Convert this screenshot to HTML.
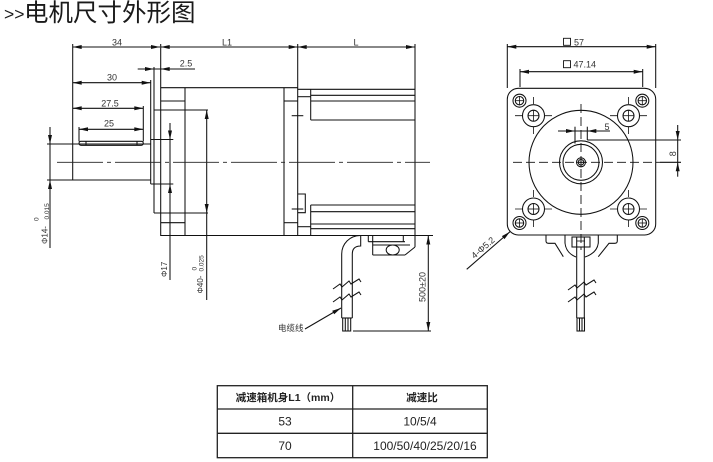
<!DOCTYPE html>
<html><head><meta charset="utf-8"><style>
html,body{margin:0;padding:0;background:#fff;}
svg{display:block;}
text{font-family:"Liberation Sans","Noto Sans CJK SC",sans-serif;fill:#333;}
</style></head><body>
<svg width="713" height="462" viewBox="0 0 713 462" xmlns="http://www.w3.org/2000/svg">
<rect width="713" height="462" fill="#fff"/>
<!-- title -->
<text x="4" y="20" font-size="17.5" style="fill:#1a1a1a">&gt;&gt;</text>
<text x="24" y="21" font-size="24.5" style="fill:#1a1a1a;font-family:'Noto Sans CJK SC',sans-serif">电机尺寸外形图</text>

<g stroke="#111" stroke-width="1.05" fill="none">
<!-- ===== SIDE VIEW ===== -->
<line x1="72.7" y1="47" x2="160" y2="47"/>
<line x1="160.7" y1="47" x2="415" y2="47"/>
<line x1="72.7" y1="44" x2="72.7" y2="180"/>
<line x1="160.7" y1="44" x2="160.7" y2="236"/>
<line x1="297.7" y1="44" x2="297.7" y2="236"/>
<line x1="415" y1="44" x2="415" y2="247"/>
<!-- 30 -->
<line x1="72.7" y1="82.7" x2="150.7" y2="82.7"/>
<line x1="150.7" y1="80" x2="150.7" y2="184"/>
<!-- 2.5 -->
<line x1="137.7" y1="69" x2="195" y2="69"/>
<line x1="154" y1="67" x2="154" y2="213"/>
<!-- 27.5 -->
<line x1="72.7" y1="108.3" x2="143.3" y2="108.3"/>
<line x1="143.3" y1="106" x2="143.3" y2="141.5"/>
<!-- 25 -->
<line x1="79" y1="129.3" x2="143.3" y2="129.3"/>
<line x1="79" y1="127" x2="79" y2="141.5"/>
<!-- shaft -->
<line x1="47" y1="144" x2="150.7" y2="144"/>
<line x1="47" y1="180" x2="150.7" y2="180"/>
<rect x="79" y="141.3" width="64.3" height="4" rx="2"/>
<line x1="86" y1="141.3" x2="86" y2="145.3"/>
<line x1="137" y1="141.3" x2="137" y2="145.3"/>
<line x1="50" y1="127" x2="50" y2="248"/>
<!-- step phi17 -->
<line x1="150.7" y1="139.5" x2="173.3" y2="139.5"/>
<line x1="150.7" y1="184" x2="173.3" y2="184"/>
<line x1="170" y1="123" x2="170" y2="280"/>
<!-- flange -->
<line x1="154" y1="110" x2="208" y2="110"/>
<line x1="154" y1="213" x2="208" y2="213"/>
<line x1="206.7" y1="110" x2="206.7" y2="300"/>
<!-- gearbox -->
<line x1="160.7" y1="87.7" x2="297.7" y2="87.7"/>
<line x1="160.7" y1="235.5" x2="433" y2="235.5"/>
<line x1="185" y1="87.7" x2="185" y2="235.5"/>
<line x1="284" y1="87.7" x2="284" y2="235.5"/>
<line x1="160.7" y1="101" x2="185" y2="101"/>
<line x1="284" y1="101" x2="297.7" y2="101"/>
<line x1="160.7" y1="222.7" x2="185" y2="222.7"/>
<line x1="284" y1="222.7" x2="297.7" y2="222.7"/>
<!-- motor -->
<line x1="297.7" y1="89.3" x2="415" y2="89.3"/>
<line x1="297.7" y1="96.7" x2="310.7" y2="96.7"/>
<line x1="310.7" y1="89.3" x2="310.7" y2="120"/>
<line x1="310.7" y1="95.3" x2="415" y2="95.3"/>
<line x1="310.7" y1="101" x2="415" y2="101"/>
<line x1="310.7" y1="120" x2="415" y2="120"/>
<line x1="310.7" y1="205" x2="415" y2="205"/>
<line x1="310.7" y1="211.7" x2="415" y2="211.7"/>
<line x1="310.7" y1="224" x2="415" y2="224"/>
<line x1="310.7" y1="228.7" x2="415" y2="228.7"/>
<line x1="297.7" y1="226.7" x2="310.7" y2="226.7"/>
<line x1="310.7" y1="205" x2="310.7" y2="235.5"/>
<line x1="291.7" y1="115.7" x2="303.3" y2="115.7"/>
<line x1="291.7" y1="209" x2="303.3" y2="209"/>
<polyline points="297.7,194 305.3,194 305.3,212.7 297.7,212.7"/>
<!-- connector side -->
<line x1="368.3" y1="235.5" x2="368.3" y2="241.7"/>
<line x1="372.7" y1="235.5" x2="372.7" y2="255"/>
<line x1="403.3" y1="235.5" x2="403.3" y2="241.7"/>
<line x1="368.3" y1="241.7" x2="405" y2="241.7"/>
<line x1="372.7" y1="245" x2="410" y2="245"/>
<line x1="372.7" y1="255" x2="405" y2="255"/>
<line x1="415" y1="247" x2="405" y2="255"/>
<ellipse cx="392.7" cy="250" rx="6.5" ry="5"/>
<!-- cable side -->
<path d="M341.7,318 V254 A18.5,18.5 0 0 1 360.2,235.5"/>
<path d="M352.3,318 V254 Q352.3,246 360.7,246 V235.5"/>
<path d="M333,289 L340,284 L342,287 L349,281 L351,284 L359,279 L361,282"/>
<path d="M333,302 L340,297 L342,300 L349,294 L351,297 L359,292 L361,295"/>
<line x1="341.7" y1="318" x2="352.3" y2="318"/>
<rect x="342.7" y="318" width="8" height="13"/>
<line x1="345.3" y1="318" x2="345.3" y2="331"/>
<line x1="348" y1="318" x2="348" y2="331"/>
<!-- 500 dim -->
<line x1="428.3" y1="235.5" x2="428.3" y2="331"/>
<line x1="353" y1="331" x2="431" y2="331"/>
<line x1="305" y1="329" x2="341" y2="308"/>
</g>

<line x1="57" y1="162.3" x2="430" y2="162.3" stroke="#222" stroke-width="0.9" stroke-dasharray="46 4 4 4"/>

<!-- ===== FRONT VIEW ===== -->
<g stroke="#111" stroke-width="1.05" fill="none">
<rect x="507.3" y="88.3" width="148.4" height="146.7" rx="11"/>
<line x1="507.3" y1="44" x2="507.3" y2="88"/>
<line x1="655.7" y1="44" x2="655.7" y2="88"/>
<line x1="507.3" y1="46.7" x2="655.7" y2="46.7"/>
<line x1="520" y1="69" x2="520" y2="87"/>
<line x1="642.7" y1="69" x2="642.7" y2="87"/>
<line x1="520" y1="71.7" x2="642.7" y2="71.7"/>
<rect x="563.5" y="38.3" width="7" height="7" stroke-width="0.9"/>
<rect x="563.5" y="60.7" width="7" height="7" stroke-width="0.9"/>
<circle cx="581" cy="162.3" r="52"/>
<circle cx="581" cy="162.3" r="21.5"/>
<circle cx="581" cy="162.3" r="18"/>
<circle cx="581" cy="162.3" r="4.5"/>
<circle cx="581" cy="162.3" r="2.8"/>
<circle cx="533.5" cy="115.7" r="11"/><circle cx="533.5" cy="115.7" r="5.5"/>
<circle cx="628.5" cy="115.7" r="11"/><circle cx="628.5" cy="115.7" r="5.5"/>
<circle cx="533.5" cy="209" r="11"/><circle cx="533.5" cy="209" r="5.5"/>
<circle cx="628.5" cy="209" r="11"/><circle cx="628.5" cy="209" r="5.5"/>
<circle cx="519.5" cy="100.7" r="6.5"/><circle cx="519.5" cy="100.7" r="4.2"/>
<circle cx="642.3" cy="100.7" r="6.5"/><circle cx="642.3" cy="100.7" r="4.2"/>
<circle cx="519.5" cy="223" r="6.5"/><circle cx="519.5" cy="223" r="4.2"/>
<circle cx="642.3" cy="223" r="6.5"/><circle cx="642.3" cy="223" r="4.2"/>
<line x1="558" y1="131" x2="610" y2="131"/>
<line x1="575" y1="126.7" x2="575" y2="143.5"/>
<line x1="587.3" y1="126.7" x2="587.3" y2="140"/>
<line x1="587.3" y1="140" x2="681" y2="140"/>
<line x1="677.7" y1="125" x2="677.7" y2="176.7"/>
<line x1="660" y1="162.3" x2="681" y2="162.3"/>
<path d="M546,235 V241 Q546,243.3 548.5,243.3 H555 L563.3,256.7"/>
<path d="M617.3,235 V241 Q617.3,243.3 614.8,243.3 H609 L598.3,256.7"/>
<path d="M565,235 V243 Q566,253 576,257"/>
<path d="M598.3,235 V243 Q597,253 585,257"/>
<rect x="572" y="237" width="18" height="10"/>
<line x1="576.7" y1="237" x2="576.7" y2="318"/>
<line x1="584.3" y1="237" x2="584.3" y2="318"/>
<path d="M568,290 L575,285 L577,288 L584,282 L586,285 L594,280 L596,283"/>
<path d="M568,302 L575,297 L577,300 L584,294 L586,297 L594,292 L596,295"/>
<line x1="576.7" y1="318" x2="584.3" y2="318"/>
<rect x="577" y="318" width="7.5" height="13"/>
<line x1="579.5" y1="318" x2="579.5" y2="331"/>
<line x1="582" y1="318" x2="582" y2="331"/>
<line x1="466.7" y1="269.3" x2="510" y2="231.7"/>
</g>
<g stroke="#111" stroke-width="0.8">
<line x1="576" y1="162.3" x2="586" y2="162.3"/><line x1="581" y1="157.3" x2="581" y2="167.3"/>
<line x1="528" y1="115.7" x2="539" y2="115.7"/><line x1="533.5" y1="110.2" x2="533.5" y2="121.2"/>
<line x1="623" y1="115.7" x2="634" y2="115.7"/><line x1="628.5" y1="110.2" x2="628.5" y2="121.2"/>
<line x1="528" y1="209" x2="539" y2="209"/><line x1="533.5" y1="203.5" x2="533.5" y2="214.5"/>
<line x1="623" y1="209" x2="634" y2="209"/><line x1="628.5" y1="203.5" x2="628.5" y2="214.5"/>
<line x1="515" y1="100.7" x2="524" y2="100.7"/><line x1="519.5" y1="96.2" x2="519.5" y2="105.2"/>
<line x1="637.8" y1="100.7" x2="646.8" y2="100.7"/><line x1="642.3" y1="96.2" x2="642.3" y2="105.2"/>
<line x1="515" y1="223" x2="524" y2="223"/><line x1="519.5" y1="218.5" x2="519.5" y2="227.5"/>
<line x1="637.8" y1="223" x2="646.8" y2="223"/><line x1="642.3" y1="218.5" x2="642.3" y2="227.5"/>
<path d="M515,115.7 H522 M545,115.7 H552 M533.5,97 V104 M533.5,127 V134"/>
<path d="M610,115.7 H617 M640,115.7 H647 M628.5,97 V104 M628.5,127 V134"/>
<path d="M515,209 H522 M545,209 H552 M533.5,190 V197 M533.5,220 V227"/>
<path d="M610,209 H617 M640,209 H647 M628.5,190 V197 M628.5,220 V227"/>
<line x1="577" y1="241" x2="585" y2="241"/>
</g>
<line x1="581" y1="104" x2="581" y2="250" stroke="#111" stroke-width="0.9" stroke-dasharray="9 4"/>
<line x1="513" y1="162.3" x2="660" y2="162.3" stroke="#111" stroke-width="0.9" stroke-dasharray="9 4"/>

<!-- arrowheads -->
<g fill="#111" stroke="none">
<polygon points="72.7,47 81.7,45 81.7,49"/><polygon points="160,47 151,45 151,49"/>
<polygon points="160.7,47 169.7,45 169.7,49"/><polygon points="297.7,47 288.7,45 288.7,49"/>
<polygon points="297.7,47 306.7,45 306.7,49"/><polygon points="415,47 406,45 406,49"/>
<polygon points="72.7,82.7 81.7,80.7 81.7,84.7"/><polygon points="150.7,82.7 141.7,80.7 141.7,84.7"/>
<polygon points="154,69 145,67 145,71"/><polygon points="160.7,69 169.7,67 169.7,71"/>
<polygon points="72.7,108.3 81.7,106.3 81.7,110.3"/><polygon points="143.3,108.3 134.3,106.3 134.3,110.3"/>
<polygon points="79,129.3 88,127.3 88,131.3"/><polygon points="143.3,129.3 134.3,127.3 134.3,131.3"/>
<polygon points="50,144 48,135 52,135"/><polygon points="50,180 48,189 52,189"/>
<polygon points="170,139.5 168,130.5 172,130.5"/><polygon points="170,184 168,193 172,193"/>
<polygon points="206.7,110 204.7,119 208.7,119"/><polygon points="206.7,213 204.7,204 208.7,204"/>
<polygon points="428.3,235.5 426.3,244.5 430.3,244.5"/><polygon points="428.3,331 426.3,322 430.3,322"/>
<polygon points="341,308 334.2,314.2 332.2,310.8"/>
<polygon points="507.3,46.7 516.3,44.7 516.3,48.7"/><polygon points="655.7,46.7 646.7,44.7 646.7,48.7"/>
<polygon points="520,71.7 529,69.7 529,73.7"/><polygon points="642.7,71.7 633.7,69.7 633.7,73.7"/>
<polygon points="575,131 566,129 566,133"/><polygon points="587.3,131 596.3,129 596.3,133"/>
<polygon points="677.7,140 675.7,131 679.7,131"/><polygon points="677.7,162.3 675.7,171.3 679.7,171.3"/>
<polygon points="510,231.7 504.5,239.1 501.9,236.1"/>
</g>

<g font-size="9">
<text x="117" y="45.5" text-anchor="middle">34</text>
<text x="227" y="45.5" text-anchor="middle">L1</text>
<text x="356" y="45.5" text-anchor="middle">L</text>
<text x="186" y="66.5" text-anchor="middle">2.5</text>
<text x="112" y="80.5" text-anchor="middle">30</text>
<text x="110" y="106.5" text-anchor="middle">27.5</text>
<text x="109" y="126.5" text-anchor="middle">25</text>
<text x="574" y="45.3">57</text>
<text x="573.5" y="67.7">47.14</text>
<text x="604.5" y="130">5</text>
<text transform="translate(676,153.7) rotate(-90)" text-anchor="middle">8</text>
<text transform="translate(425.5,287) rotate(-90)" text-anchor="middle">500±20</text>
<text transform="translate(485,250) rotate(-41)" text-anchor="middle">4-Φ5.2</text>
</g>
<g font-size="8">
<text transform="translate(47.5,244) rotate(-90)">Φ14-</text>
<text transform="translate(167,277) rotate(-90)">Φ17</text>
<text transform="translate(203,293.5) rotate(-90)">Φ40-</text>
</g>
<g font-size="6.5">
<text transform="translate(38.5,221) rotate(-90)">0</text>
<text transform="translate(49,219.5) rotate(-90)">0.015</text>
<text transform="translate(196.5,270.5) rotate(-90)">0</text>
<text transform="translate(203.5,271.5) rotate(-90)">0.025</text>
</g>
<text x="278" y="331" font-size="8.5">电缆线</text>

<!-- table -->
<g stroke="#222" stroke-width="1.3" fill="none">
<rect x="217.3" y="385.7" width="270" height="72"/>
<line x1="352.7" y1="385.7" x2="352.7" y2="457.7"/>
<line x1="217.3" y1="409" x2="487.3" y2="409"/>
<line x1="217.3" y1="433.3" x2="487.3" y2="433.3"/>
</g>
<g text-anchor="middle">
<text x="288" y="401" font-size="10.5" font-weight="bold" style="fill:#222">减速箱机身L1（mm）</text>
<text x="422" y="401" font-size="10.5" font-weight="bold" style="fill:#222">减速比</text>
<text x="285" y="425.5" font-size="12" style="fill:#222">53</text>
<text x="420" y="425.5" font-size="12" style="fill:#222">10/5/4</text>
<text x="285" y="450" font-size="12" style="fill:#222">70</text>
<text x="425" y="450" font-size="12" style="fill:#222">100/50/40/25/20/16</text>
</g>
</svg>
</body></html>
